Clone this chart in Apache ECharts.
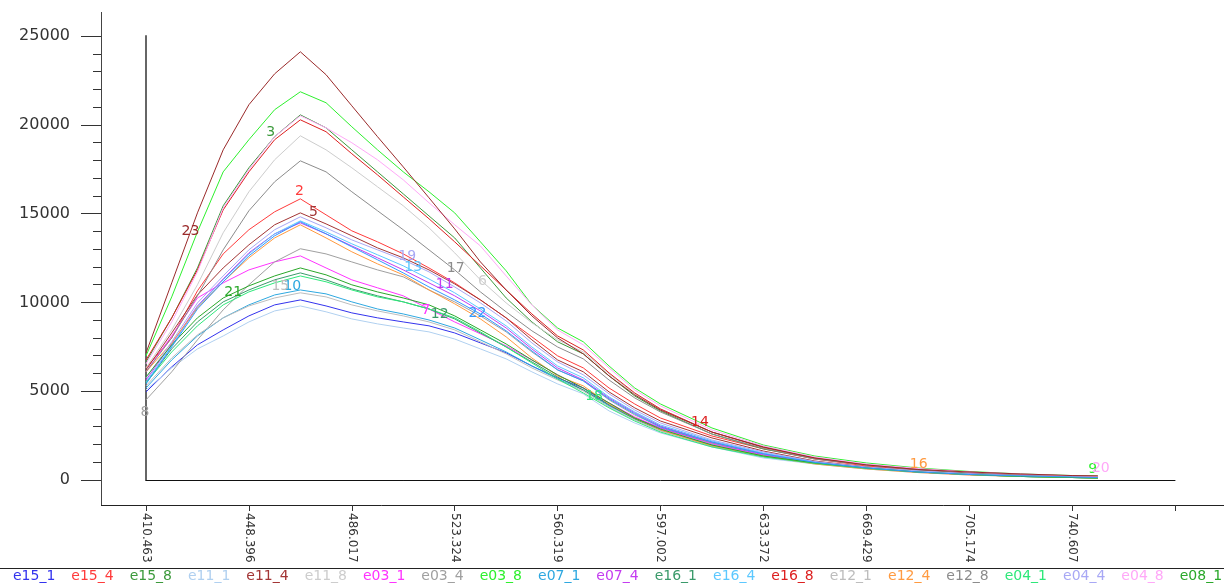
<!DOCTYPE html>
<html>
<head>
<meta charset="utf-8">
<title>Spectra</title>
<script src="https://cdn.jsdelivr.net/npm/echarts@6/dist/echarts.min.js"></script>
<style>
  html, body { margin: 0; padding: 0; background: #ffffff; }
  #chart { width: 1224px; height: 586px; }
</style>
</head>
<body>
<div id="chart"></div>
<script>
// Detector channel of each sample; the axis labels give the wavelength every 100 channels.
const channels = [0, 25, 50, 75, 100, 125, 150, 175, 200, 225, 250, 275, 300, 325, 350, 375,
  400, 425, 450, 475, 500, 550, 600, 650, 700, 750, 800, 850, 900, 925];
const tickLabels = ['410.463', '448.396', '486.017', '523.324', '560.319', '597.002',
  '633.372', '669.429', '705.174', '740.607', ''];

const seriesNames = ['e15_1', 'e15_4', 'e15_8', 'e11_1', 'e11_4', 'e11_8', 'e03_1', 'e03_4',
  'e03_8', 'e07_1', 'e07_4', 'e16_1', 'e16_4', 'e16_8', 'e12_1', 'e12_4', 'e12_8', 'e04_1',
  'e04_4', 'e04_8', 'e08_1', 'e08_4', 'e08_8'];

// Intensity per channel for each sample
const e15_1 = [4960, 6370, 7610, 8450, 9240, 9860, 10140, 9800, 9410, 9130, 8900, 8680, 8280, 7720, 7160, 6420, 5750, 5180, 4230, 3490, 2930, 2090, 1410, 1010, 730, 510, 370, 250, 170, 140];
const e15_4 = [6310, 8000, 10650, 12730, 14090, 15100, 15830, 14930, 14030, 13410, 12730, 11940, 11100, 10140, 9130, 8060, 6990, 6310, 5180, 4280, 3490, 2480, 1750, 1180, 790, 560, 390, 280, 200, 170];
const e15_8 = [6650, 9130, 11940, 15440, 17580, 19330, 20560, 19830, 18590, 17350, 16110, 14870, 13630, 11940, 10250, 8900, 7780, 7100, 5860, 4730, 3890, 2590, 1750, 1210, 850, 590, 420, 280, 200, 170];
const e11_1 = [5070, 6310, 7380, 8110, 8900, 9520, 9800, 9470, 9070, 8790, 8560, 8340, 7940, 7380, 6820, 6090, 5410, 4850, 3890, 3210, 2650, 1860, 1240, 900, 620, 420, 280, 200, 140, 110];
const e11_4 = [6200, 8280, 10420, 11940, 13240, 14370, 15040, 14420, 13750, 13070, 12510, 11830, 11040, 10140, 9130, 7890, 6760, 6090, 4960, 4060, 3320, 2370, 1630, 1070, 730, 510, 370, 250, 170, 140];
const e11_8 = [6310, 8450, 10990, 13920, 16230, 18030, 19380, 18590, 17580, 16510, 15440, 14200, 12790, 11270, 9970, 8850, 7890, 7210, 5970, 4850, 4000, 2700, 1860, 1240, 870, 620, 450, 310, 230, 200];
const e03_1 = [6090, 8110, 10250, 11100, 11830, 12280, 12620, 11940, 11270, 10820, 10370, 9630, 8900, 8230, 7550, 6760, 5920, 5180, 4340, 3550, 2930, 2030, 1410, 990, 680, 480, 340, 230, 170, 140];
const e03_4 = [4510, 6090, 7890, 9580, 10990, 12280, 13020, 12730, 12280, 11830, 11440, 10700, 10030, 9240, 8340, 7210, 6200, 5580, 4510, 3660, 2990, 2090, 1470, 990, 680, 450, 310, 230, 170, 140];
const e03_8 = [6990, 10310, 13970, 17350, 19160, 20850, 21860, 21240, 19890, 18590, 17350, 16230, 15040, 13410, 11780, 9860, 8560, 7780, 6420, 5180, 4280, 2930, 1970, 1350, 960, 680, 480, 340, 250, 230];
const e07_1 = [5180, 6760, 8110, 9130, 9860, 10420, 10700, 10480, 10030, 9630, 9350, 9010, 8560, 7890, 7210, 6420, 5690, 5070, 4170, 3440, 2820, 1970, 1350, 960, 680, 450, 310, 200, 140, 110];
const e07_4 = [5630, 7660, 9800, 11320, 12790, 13860, 14480, 13860, 13180, 12510, 11830, 11100, 10370, 9520, 8560, 7380, 6310, 5630, 4620, 3780, 3040, 2140, 1490, 1010, 700, 480, 340, 230, 170, 140];
const e16_1 = [5470, 7380, 8900, 10030, 10700, 11270, 11660, 11270, 10760, 10370, 10030, 9630, 9070, 8280, 7490, 6650, 5800, 5070, 4230, 3440, 2820, 1920, 1320, 960, 680, 450, 310, 200, 140, 110];
const e16_4 = [5520, 7550, 9750, 11270, 12730, 13860, 14590, 13970, 13300, 12680, 12060, 11320, 10540, 9630, 8680, 7490, 6420, 5750, 4680, 3830, 3100, 2200, 1520, 1010, 700, 510, 340, 230, 170, 140];
const e16_8 = [6760, 9130, 11830, 15210, 17350, 19160, 20280, 19610, 18370, 17180, 15940, 14710, 13410, 12060, 10700, 9350, 8110, 7320, 6030, 4900, 4000, 2700, 1830, 1240, 870, 620, 450, 310, 230, 200];
const e12_1 = [5300, 6870, 8170, 9130, 9800, 10250, 10540, 10310, 9860, 9520, 9240, 8900, 8450, 7780, 7100, 6310, 5630, 5010, 4110, 3380, 2760, 1920, 1320, 930, 650, 450, 310, 200, 140, 110];
const e12_4 = [6090, 7720, 9690, 11160, 12510, 13630, 14370, 13630, 12850, 12170, 11550, 10700, 9920, 9070, 8060, 6870, 5860, 5300, 4280, 3490, 2820, 1920, 1350, 900, 620, 420, 280, 200, 140, 110];
const e12_8 = [6090, 8000, 10370, 12960, 15160, 16790, 17970, 17350, 16230, 15160, 14090, 12960, 11830, 10590, 9470, 8400, 7490, 6820, 5630, 4620, 3830, 2590, 1780, 1180, 850, 590, 420, 280, 200, 170];
const e04_1 = [5470, 7210, 8680, 9860, 10590, 11100, 11490, 11160, 10700, 10310, 10030, 9630, 9130, 8340, 7490, 6590, 5690, 4900, 4060, 3320, 2700, 1860, 1300, 930, 650, 450, 310, 200, 140, 110];
const e04_4 = [5750, 7780, 9970, 11490, 12960, 14090, 14820, 14200, 13520, 12960, 12400, 11720, 10870, 9970, 8960, 7720, 6650, 5920, 4850, 3940, 3210, 2250, 1580, 1040, 730, 510, 340, 230, 170, 140];
const e04_8 = [6540, 8900, 11720, 15320, 17470, 19330, 20510, 19830, 18990, 18030, 16900, 15610, 14370, 13180, 11490, 9860, 8450, 7610, 6310, 5070, 4170, 2820, 1920, 1300, 900, 650, 450, 340, 230, 200];
const e08_1 = [5800, 7610, 9130, 10250, 10930, 11490, 11940, 11550, 10990, 10590, 10250, 9860, 9240, 8450, 7660, 6760, 5920, 5180, 4340, 3490, 2870, 1970, 1350, 960, 680, 450, 310, 200, 140, 110];
const e08_4 = [5410, 7490, 9630, 11160, 12620, 13750, 14540, 13860, 13130, 12400, 11660, 10870, 10140, 9350, 8400, 7270, 6200, 5580, 4560, 3720, 2990, 2140, 1470, 990, 680, 450, 310, 230, 170, 140];
const e08_8 = [7150, 11100, 15040, 18590, 21130, 22870, 24110, 22820, 21070, 19330, 17630, 15890, 14140, 12280, 10700, 9240, 8000, 7100, 5860, 4790, 3940, 2700, 1860, 1240, 850, 590, 450, 340, 250, 230];

const seriesValues = [e15_1, e15_4, e15_8, e11_1, e11_4, e11_8, e03_1, e03_4, e03_8, e07_1,
  e07_4, e16_1, e16_4, e16_8, e12_1, e12_4, e12_8, e04_1, e04_4, e04_8, e08_1, e08_4, e08_8];

const seriesColors = ['#3333ee', '#ff3b3b', '#3c9a3c', '#b0d0f0', '#a33535', '#cdcdcd',
  '#ff33ff', '#a0a0a0', '#2ef02e', '#2ea8e0', '#c43cf0', '#3a9a6a', '#5cc8ff', '#dd2020',
  '#bdbdbd', '#ff9a40', '#8c8c8c', '#2ee87a', '#a8a8f5', '#ffa8f8', '#2aa82a', '#3399ff',
  '#9a2a2a'];

// Curve number tags: curve number -> [sample index, dx, dy]
const curveTags = {
  2: [6, -1, -7], 3: [5, -4, -4], 5: [6, 13, -1], 6: [13, 2, 2], 7: [11, -3, 1],
  8: [0, -1, 12], 9: [29, -5, -7], 10: [6, -8, -4], 11: [12, -10, -11], 12: [12, -15, -5],
  13: [10, 10, 2], 14: [21, -12, -10], 15: [6, -20, -6], 16: [25, 1, -8], 17: [12, 1, -2],
  18: [18, -15, -12], 19: [10, 4, -3], 20: [29, 3, -8], 21: [3, 10, -6], 22: [13, -3, -1],
  23: [2, -7, 18]
};

const series = seriesNames.map((name, i) => {
  const tag = curveTags[i + 1];
  const color = seriesColors[i];
  return {
    name: name,
    type: 'line',
    xAxisIndex: 0,
    yAxisIndex: 0,
    symbol: 'circle',
    symbolSize: 0,
    showSymbol: true,
    silent: true,
    emphasis: { disabled: true },
    lineStyle: { width: 1, color: color },
    itemStyle: { color: color },
    data: seriesValues[i].map((v, k) => {
      const item = { value: [channels[k], v] };
      if (tag && tag[0] === k) {
        item.label = {
          show: true, position: 'inside', offset: [tag[1], tag[2]],
          formatter: String(i + 1), color: color,
          fontSize: 14, fontFamily: 'DejaVu Sans'
        };
      }
      return item;
    })
  };
});

const chart = echarts.init(document.getElementById('chart'), null, { renderer: 'canvas' });
chart.setOption({
  animation: false,
  backgroundColor: '#ffffff',
  grid: { left: 146, right: 49, top: 36, bottom: 106 },
  xAxis: [
    {
      type: 'value', min: 0, max: 1000, interval: 100,
      axisLine: { show: true, onZero: false, lineStyle: { color: '#111', width: 1 } },
      axisTick: { show: false }, axisLabel: { show: false }, splitLine: { show: false }
    },
    {
      type: 'value', position: 'bottom', offset: 25, min: 0, max: 1000, interval: 100,
      axisLine: { show: false, onZero: false },
      axisTick: { show: true, length: 6, lineStyle: { color: '#333' } },
      axisLabel: {
        rotate: -90, margin: 8, fontSize: 12, fontFamily: 'DejaVu Sans', color: '#333',
        formatter: (v) => tickLabels[Math.round(v / 100)] || ''
      },
      splitLine: { show: false }
    }
  ],
  yAxis: [
    {
      type: 'value', min: 0, max: 25000, interval: 5000,
      axisLine: { show: true, onZero: false, lineStyle: { color: '#666', width: 2 } },
      axisTick: { show: false }, axisLabel: { show: false }, splitLine: { show: false }
    },
    {
      type: 'value', position: 'left', offset: 45, min: 0, max: 25000, interval: 5000,
      axisLine: { show: false, onZero: false },
      axisTick: { show: true, length: 20, lineStyle: { color: '#333' } },
      minorTick: { show: true, splitNumber: 5, length: 8, lineStyle: { color: '#333' } },
      axisLabel: {
        margin: 31, fontSize: 16, fontFamily: 'DejaVu Sans', color: '#333',
        formatter: (v) => String(v)
      },
      splitLine: { show: false }
    }
  ],
  legend: {
    data: seriesNames.map((n, i) => ({ name: n, textStyle: { color: seriesColors[i] } })),
    left: 8, top: 569, width: 4000, padding: 0,
    itemGap: 11, itemWidth: 0, itemHeight: 0, icon: 'rect',
    selectedMode: false,
    textStyle: { fontSize: 14, fontFamily: 'DejaVu Sans' }
  },
  graphic: [
    { type: 'line', silent: true, shape: { x1: 101.5, y1: 12, x2: 101.5, y2: 505 }, style: { stroke: '#444', lineWidth: 1 } },
    { type: 'line', silent: true, shape: { x1: 101, y1: 505.5, x2: 1224, y2: 505.5 }, style: { stroke: '#222', lineWidth: 1 } },
    { type: 'line', silent: true, shape: { x1: 0, y1: 568.5, x2: 1224, y2: 568.5 }, style: { stroke: '#222', lineWidth: 1 } }
  ],
  series: series
});
</script>
</body>
</html>
